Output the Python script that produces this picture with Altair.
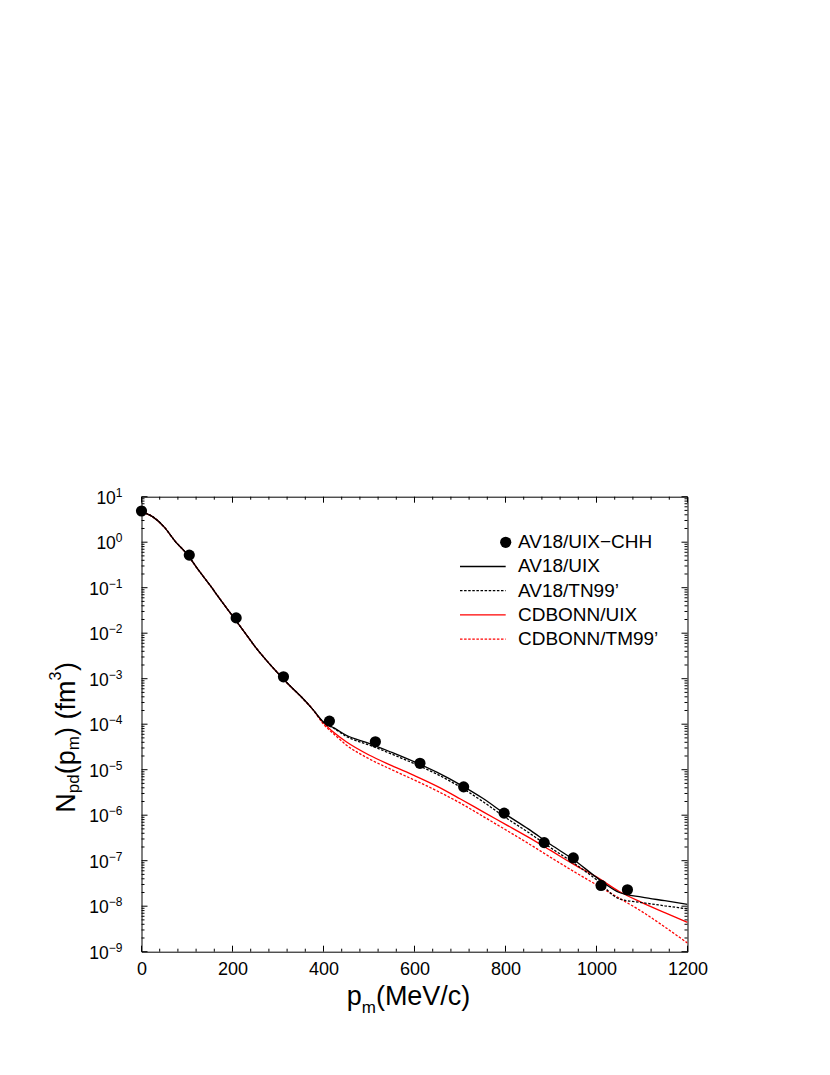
import altair as alt
import pandas as pd

# ---------------- data ----------------
p_pts = [0, 105, 208, 312, 413, 514, 612, 708, 797, 885, 949, 1010, 1068]
n_pts = [4.85, 0.52, 0.0217, 1.1e-3, 1.17e-4, 4.1e-5, 1.38e-5, 4.2e-6, 1.11e-6,
         2.5e-7, 1.15e-7, 2.86e-8, 2.3e-8]

p_grid = [0, 25, 50, 75, 100, 125, 150, 175, 200, 225, 250, 275, 300, 325, 350, 375,
          400, 425, 450, 500, 550, 600, 650, 700, 750, 800, 850, 900, 950, 1000,
          1050, 1100, 1150, 1200]
low_p = [4.7, 3.6, 2.15, 1.02, 0.55, 0.245, 0.115, 0.052, 0.024, 0.011, 5.0e-3,
         2.5e-3, 1.32e-3, 7.2e-4, 4.1e-4, 2.2e-4]
av18_uix = low_p + [1.12e-4, 8.1e-5, 5.7e-5, 3.8e-5, 2.4e-5, 1.48e-5, 8.7e-6, 4.7e-6,
                    2.35e-6, 1.05e-6, 5.0e-7, 2.24e-7, 1.05e-7, 4.3e-8, 2.0e-8,
                    1.58e-8, 1.32e-8, 1.1e-8]
av18_tn99 = low_p + [1.1e-4, 7.9e-5, 5.4e-5, 3.5e-5, 2.2e-5, 1.35e-5, 7.9e-6, 4.2e-6,
                     2.0e-6, 8.9e-7, 4.2e-7, 1.9e-7, 8.9e-8, 3.8e-8, 1.45e-8,
                     1.2e-8, 1.02e-8, 8.7e-9]
cdb_uix = low_p + [1.07e-4, 6.3e-5, 4.1e-5, 2.1e-5, 1.23e-5, 7.4e-6, 4.3e-6, 2.3e-6,
                   1.2e-6, 6.3e-7, 3.3e-7, 1.66e-7, 8.3e-8, 4.4e-8, 2.1e-8, 1.2e-8,
                   7.2e-9, 4.4e-9]
cdb_tm99 = low_p + [1.0e-4, 5.8e-5, 3.5e-5, 1.74e-5, 1.0e-5, 5.9e-6, 3.4e-6, 1.86e-6,
                    9.5e-7, 4.8e-7, 2.4e-7, 1.17e-7, 5.8e-8, 2.95e-8, 1.5e-8, 7.6e-9,
                    3.5e-9, 1.55e-9]

x_major = [0, 200, 400, 600, 800, 1000, 1200]
x_minor = list(range(0, 1201, 40))
decades = [-9, -8, -7, -6, -5, -4, -3, -2, -1, 0, 1]
legend_labels = ["AV18/UIX\u2212CHH", "AV18/UIX", "AV18/TN99\u2019", "CDBONN/UIX",
                 "CDBONN/TM99\u2019"]

# ---------------- layout ----------------
W, H = 546, 455
FONT = "Liberation Sans"
RED = "#ff0000"

xs = alt.Scale(domain=[0, 1200], nice=False, zero=False)
ys = alt.Scale(type="log", domain=[1e-9, 10], nice=False)
x_axis = alt.Axis(values=x_major, labels=True, ticks=False, domain=False, grid=False,
                  title=None, labelFont=FONT, labelFontSize=18, labelColor="black",
                  labelPadding=9, labelFlush=False, labelOverlap=False, format="d")


def X(field):
    return alt.X(field, type="quantitative", scale=xs, axis=x_axis)


def Y(field):
    return alt.Y(field, type="quantitative", scale=ys, axis=None)


layers = []


def curve(vals, color, dash):
    df = pd.DataFrame({"p": p_grid, "n": vals})
    kw = dict(color=color, strokeWidth=1.3, interpolate="monotone", clip=True)
    if dash:
        kw["strokeDash"] = [2.5, 1.6]
    return alt.Chart(df).mark_line(**kw).encode(x=X("p"), y=Y("n"))


layers.append(curve(cdb_tm99, RED, True))
layers.append(curve(cdb_uix, RED, False))
layers.append(curve(av18_tn99, "black", True))
layers.append(curve(av18_uix, "black", False))

pts = pd.DataFrame({"p": p_pts, "n": n_pts})
layers.append(alt.Chart(pts).mark_circle(color="black", opacity=1, size=125)
              .encode(x=X("p"), y=Y("n")))

# ---------------- inward ticks on all four sides ----------------
xt = pd.DataFrame({"t": x_minor, "major": [t in x_major for t in x_minor]})
y_ticks = []
for e in decades:
    for k in range(1, 10):
        v = k * 10.0 ** e
        if v <= 10.0 + 1e-12:
            y_ticks.append({"t": v, "major": k == 1})
yt = pd.DataFrame(y_ticks)

for major, ln in [(True, 6), (False, 3)]:
    dx = xt[xt.major == major]
    dy = yt[yt.major == major]
    layers.append(alt.Chart(dx).mark_rule(color="black", strokeWidth=1).encode(
        x=X("t"), y=alt.value(H), y2=alt.value(H - ln)))
    layers.append(alt.Chart(dx).mark_rule(color="black", strokeWidth=1).encode(
        x=X("t"), y=alt.value(0), y2=alt.value(ln)))
    layers.append(alt.Chart(dy).mark_rule(color="black", strokeWidth=1).encode(
        y=Y("t"), x=alt.value(0), x2=alt.value(ln)))
    layers.append(alt.Chart(dy).mark_rule(color="black", strokeWidth=1).encode(
        y=Y("t"), x=alt.value(W), x2=alt.value(W - ln)))

# ---------------- y tick labels 10^e ----------------
EXP_FS = 12
LAB_FS = 17.5
RIGHT = -19


def exp_text(e):
    return ("\u2212" + str(-e)) if e < 0 else str(e)


def exp_width(s):
    return sum(0.584 if c == "\u2212" else 0.556 for c in s) * EXP_FS


lab = pd.DataFrame({"v": [10.0 ** e for e in decades],
                    "ex": [exp_text(e) for e in decades]})
lab["tx"] = [RIGHT - exp_width(s) for s in lab["ex"]]
lab["ten"] = "10"
lab["ex_x"] = RIGHT
layers.append(alt.Chart(lab).mark_text(font=FONT, fontSize=LAB_FS, align="right",
                                       baseline="middle", dy=2, color="black")
              .encode(y=Y("v"), x=alt.X("tx:Q", scale=None), text="ten:N"))
layers.append(alt.Chart(lab).mark_text(font=FONT, fontSize=EXP_FS, align="right",
                                       baseline="alphabetic", dy=0, color="black")
              .encode(y=Y("v"), x=alt.X("ex_x:Q", scale=None), text="ex:N"))


# ---------------- titles built from pieces ----------------
def piece(txt, x, y, size, angle=0):
    kw = dict(font=FONT, fontSize=size, align="left", baseline="alphabetic",
              color="black")
    if angle:
        kw["angle"] = angle
    return alt.Chart(pd.DataFrame({"s": [txt]})).mark_text(**kw).encode(
        text="s:N", x=alt.value(x), y=alt.value(y))


TF, SF = 27, 17
yb = -66.5
y_pieces = [("N", yb, 316, TF), ("pd", yb + 4, 296.5, SF), ("(p", yb, 277.6, TF),
            ("m", yb + 4, 253.6, SF), (") (fm", yb, 239.4, TF),
            ("3", yb - 14, 183.9, 16), (")", yb, 174.4, TF)]
for t, x, y, s in y_pieces:
    layers.append(piece(t, x, y, s, angle=270))

xb = 508.3
x_pieces = [("p", 205.2, xb, TF), ("m", 220.2, xb + 8, SF),
            ("(MeV/c)", 234.4, xb, TF)]
for t, x, y, s in x_pieces:
    layers.append(piece(t, x, y, s))

# ---------------- legend ----------------
LEG_Y0, LEG_DY = 45.6, 24.2
LX1, LX2, TX = 318.5, 364.2, 376.5
leg_styles = [None, ("black", False), ("black", True), (RED, False), (RED, True)]
for i, (lbl, sty) in enumerate(zip(legend_labels, leg_styles)):
    yy = LEG_Y0 + LEG_DY * i
    one = pd.DataFrame({"s": [lbl]})
    layers.append(alt.Chart(one).mark_text(font=FONT, fontSize=19, align="left",
                                           baseline="middle", color="black")
                  .encode(text="s:N", x=alt.value(TX), y=alt.value(yy)))
    if sty is None:
        layers.append(alt.Chart(one).mark_circle(color="black", opacity=1, size=125)
                      .encode(x=alt.value(LX2), y=alt.value(yy)))
    else:
        kw = dict(color=sty[0], strokeWidth=1.3)
        if sty[1]:
            kw["strokeDash"] = [2.5, 1.6]
        layers.append(alt.Chart(one).mark_rule(**kw).encode(
            x=alt.value(LX1), x2=alt.value(LX2), y=alt.value(yy)))

chart = alt.layer(*layers).properties(
    width=W, height=H,
    padding={"left": 133.5, "top": 488.7, "right": 40, "bottom": 70},
    autosize=alt.AutoSizeParams(type="none"),
    background="white",
).configure_view(stroke="black", strokeWidth=1)

chart.save("out.html", embed_options={"renderer": "svg", "actions": False})
